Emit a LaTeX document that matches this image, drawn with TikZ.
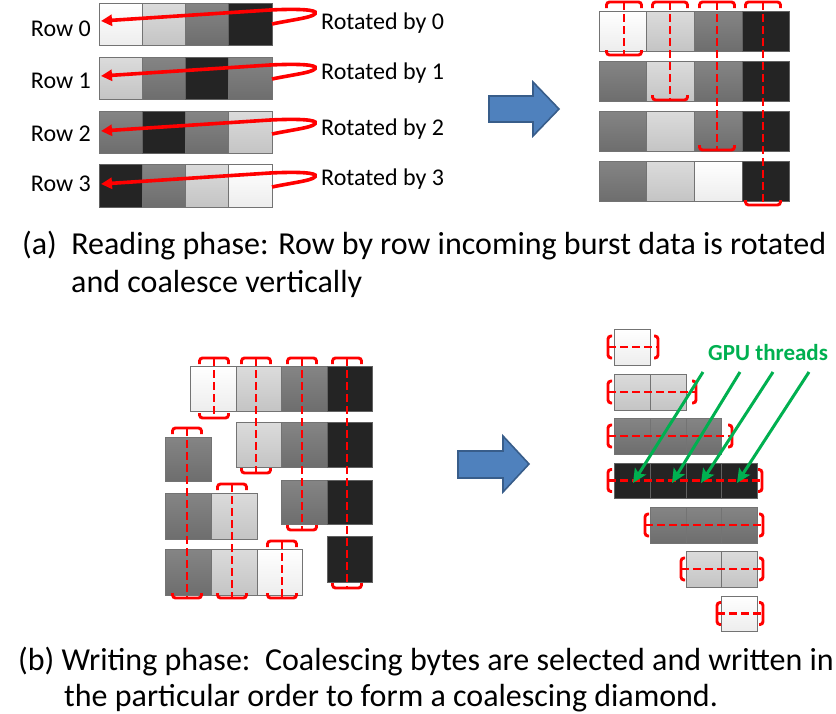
\documentclass[tikz,border=0pt]{standalone}
\usepackage{fontspec}
\setmainfont{Carlito}
\usetikzlibrary{arrows.meta}
\definecolor{gpugreen}{HTML}{00B050}
\definecolor{arrowblue}{HTML}{4F81BD}
\definecolor{arrowborder}{HTML}{385D8A}
\newcommand\topbr[3]{\draw[rbr] ({#1-#3},{#2+6}) |- (#1,#2) -| ({#1+#3},{#2+6});}
\newcommand\botbr[3]{\draw[rbr] ({#1-#3},{#2-5}) |- (#1,#2) -| ({#1+#3},{#2-5});}
\newcommand\lpar[2]{\draw[rbr] ({#1+4},{#2-11}) -| (#1,#2) |- ({#1+4},{#2+11});}
\newcommand\rpar[2]{\draw[rbr] ({#1-4},{#2-11}) -| (#1,#2) |- ({#1-4},{#2+11});}
\begin{document}
\begin{tikzpicture}[x=1pt,y=-1pt,
  cell/.style={draw=black!55, line width=0.9pt},
  cW/.style={cell, top color=white, bottom color=black!7},
  cL/.style={cell, top color=black!14, bottom color=black!23},
  cG/.style={cell, top color=black!48, bottom color=black!57},
  cD/.style={cell, fill=black!86, draw=black!62},
  rbr/.style={red, line width=2.9pt, rounded corners=3pt},
  rdash/.style={red, line width=2.9pt, dash pattern=on 8pt off 4pt},
  rotarrow/.style={red, line width=3.6pt, -{Triangle[length=11pt,width=11pt]}},
  garrow/.style={gpugreen, line width=3pt, -{Stealth[length=14pt,width=13pt,inset=3pt]}},
  bluearrow/.style={fill=arrowblue, draw=arrowborder, line width=1.6pt},
  lbl/.style={inner sep=0pt, anchor=base west, font=\fontsize{24}{28}\selectfont},
  rlbl/.style={inner sep=0pt, anchor=base east, font=\fontsize{24}{28}\selectfont},
  captext/.style={inner sep=0pt, anchor=base west, font=\fontsize{32}{38}\selectfont}]
\useasboundingbox (0,0) rectangle (836,713);

% ---------- (a) left: rows ----------
\foreach \ya/\yb/\ca/\cb/\cc/\cd in {3/45/cW/cL/cG/cD, 57/99/cL/cG/cD/cG, 111/153/cG/cD/cG/cL, 164/207/cD/cG/cL/cW}{
  \draw[\ca] (99,\ya) rectangle (142.3,\yb);
  \draw[\cb] (142.3,\ya) rectangle (185.6,\yb);
  \draw[\cc] (185.6,\ya) rectangle (228.9,\yb);
  \draw[\cd] (228.9,\ya) rectangle (272,\yb);
}
\node[rlbl] (row0) at (91,36) {Row 0};
\node[rlbl] (row1) at (91,88) {Row 1};
\node[rlbl] (row2) at (91,141) {Row 2};
\node[rlbl] (row3) at (91,191) {Row 3};
\node[lbl] (rot0) at (321,29) {Rotated by 0};
\node[lbl] (rot1) at (321,79) {Rotated by 1};
\node[lbl] (rot2) at (321,135) {Rotated by 2};
\node[lbl] (rot3) at (321,185) {Rotated by 3};
\foreach \i/\d in {0/0,1/55,2/110,3/163}{
  \coordinate (rs\i) at (272,24+\d);
  \coordinate (rt\i) at (101,21+\d);
  \draw[rotarrow] (rs\i) .. controls (296,{19+\d}) and (318,{17+\d}) .. (315,{12+\d})
     .. controls (312,{9+\d}) and (290,{9+\d}) .. (270,{10+\d}) -- (rt\i);
}

% ---------- blue arrows ----------
\draw[bluearrow] (489,96) -- (533,96) -- (533,82) -- (559,109) -- (533,136) -- (533,122) -- (489,122) -- cycle;
\draw[bluearrow] (458,451) -- (503,451) -- (503,436) -- (529,464) -- (503,492) -- (503,478) -- (458,478) -- cycle;

% ---------- (a) right ----------
\foreach \ya/\yb/\ca/\cb/\cc/\cd in {11/51/cW/cL/cG/cD, 61/101/cG/cL/cG/cD, 111/151/cG/cL/cG/cD, 161/201/cG/cL/cW/cD}{
  \draw[\ca] (599.3,\ya) rectangle (646.7,\yb);
  \draw[\cb] (646.7,\ya) rectangle (694.3,\yb);
  \draw[\cc] (694.3,\ya) rectangle (742,\yb);
  \draw[\cd] (742,\ya) rectangle (789.3,\yb);
}
\foreach \x/\yb in {624/55,670/100,717/150,763/205}{
  \draw[rdash] (\x,2) -- (\x,\yb);
  \topbr{\x}{2}{17.5}
  \botbr{\x}{\yb}{17.5}
}

% ---------- captions (a) ----------
\node[captext] (capa1) at (22,254) {(a)\ \ Reading phase: Row by row incoming burst data is rotated};
\node[captext] (capa2) at (71,292) {and coalesce vertically};

% ---------- (b) left ----------
\draw[cW] (190,366) rectangle (236,411);
\draw[cL] (236,366) rectangle (281,411);
\draw[cG] (281,366) rectangle (327,411);
\draw[cD] (327,366) rectangle (372,411);
\draw[cL] (236,422) rectangle (281,467);
\draw[cG] (281,422) rectangle (327,467);
\draw[cD] (327,422) rectangle (372,467);
\draw[cG] (281,480) rectangle (327,524);
\draw[cD] (327,480) rectangle (372,524);
\draw[cD] (327,536) rectangle (372,582);
\draw[cG] (165,437) rectangle (211,481);
\draw[cG] (165,493) rectangle (211,539);
\draw[cL] (211,493) rectangle (257,539);
\draw[cG] (165,549) rectangle (211,595);
\draw[cL] (211,549) rectangle (257,595);
\draw[cW] (257,549) rectangle (302,595);
\foreach \x/\yt/\yb in {214/358/418, 256/358/473, 302/358/530, 347/358/588, 187/428/598, 232/484/598, 282/541/598}{
  \draw[rdash] (\x,\yt) -- (\x,\yb);
  \topbr{\x}{\yt}{14.5}
  \botbr{\x}{\yb}{14.5}
}

% ---------- (b) right ----------
\draw[cW] (614,329) rectangle (650,365);
\draw[cL] (614,374) rectangle (650,410);
\draw[cL] (650,374) rectangle (686,410);
\draw[cG] (614,418) rectangle (650,454);
\draw[cG] (650,418) rectangle (686,454);
\draw[cG] (686,418) rectangle (721.5,454);
\draw[cD] (614,463) rectangle (650,498);
\draw[cD] (650,463) rectangle (686,498);
\draw[cD] (686,463) rectangle (721.5,498);
\draw[cD] (721.5,463) rectangle (757,498);
\draw[cG] (650,507) rectangle (686,543);
\draw[cG] (686,507) rectangle (721.5,543);
\draw[cG] (721.5,507) rectangle (757,543);
\draw[cL] (686,551) rectangle (721.5,587);
\draw[cL] (721.5,551) rectangle (757,587);
\draw[cW] (721.5,596) rectangle (757,631);
\foreach \y/\xl/\xr in {347/608/658, 392/608/696, 436/608/732, 480.5/608/762, 525/645/763, 569/681/763, 613.5/717/763}{
  \draw[rdash] (\xl,\y) -- (\xr,\y);
  \lpar{\xl}{\y}
  \rpar{\xr}{\y}
}
\node[inner sep=0pt, anchor=base west, text=gpugreen, font=\fontsize{23}{27}\selectfont\bfseries] (gpu) at (708,360) {GPU threads};
\foreach \i/\xs/\xe in {1/703/633, 2/740/672, 3/773/701, 4/809/737}{
  \coordinate (gs\i) at (\xs,372);
  \coordinate (ge\i) at (\xe,483);
  \draw[garrow] (gs\i) -- (ge\i);
}

% ---------- captions (b) ----------
\node[captext] (capb1) at (18,670) {(b) Writing phase:\ \ Coalescing bytes are selected and written in};
\node[captext] (capb2) at (64,706) {the particular order to form a coalescing diamond.};
\end{tikzpicture}
\end{document}
